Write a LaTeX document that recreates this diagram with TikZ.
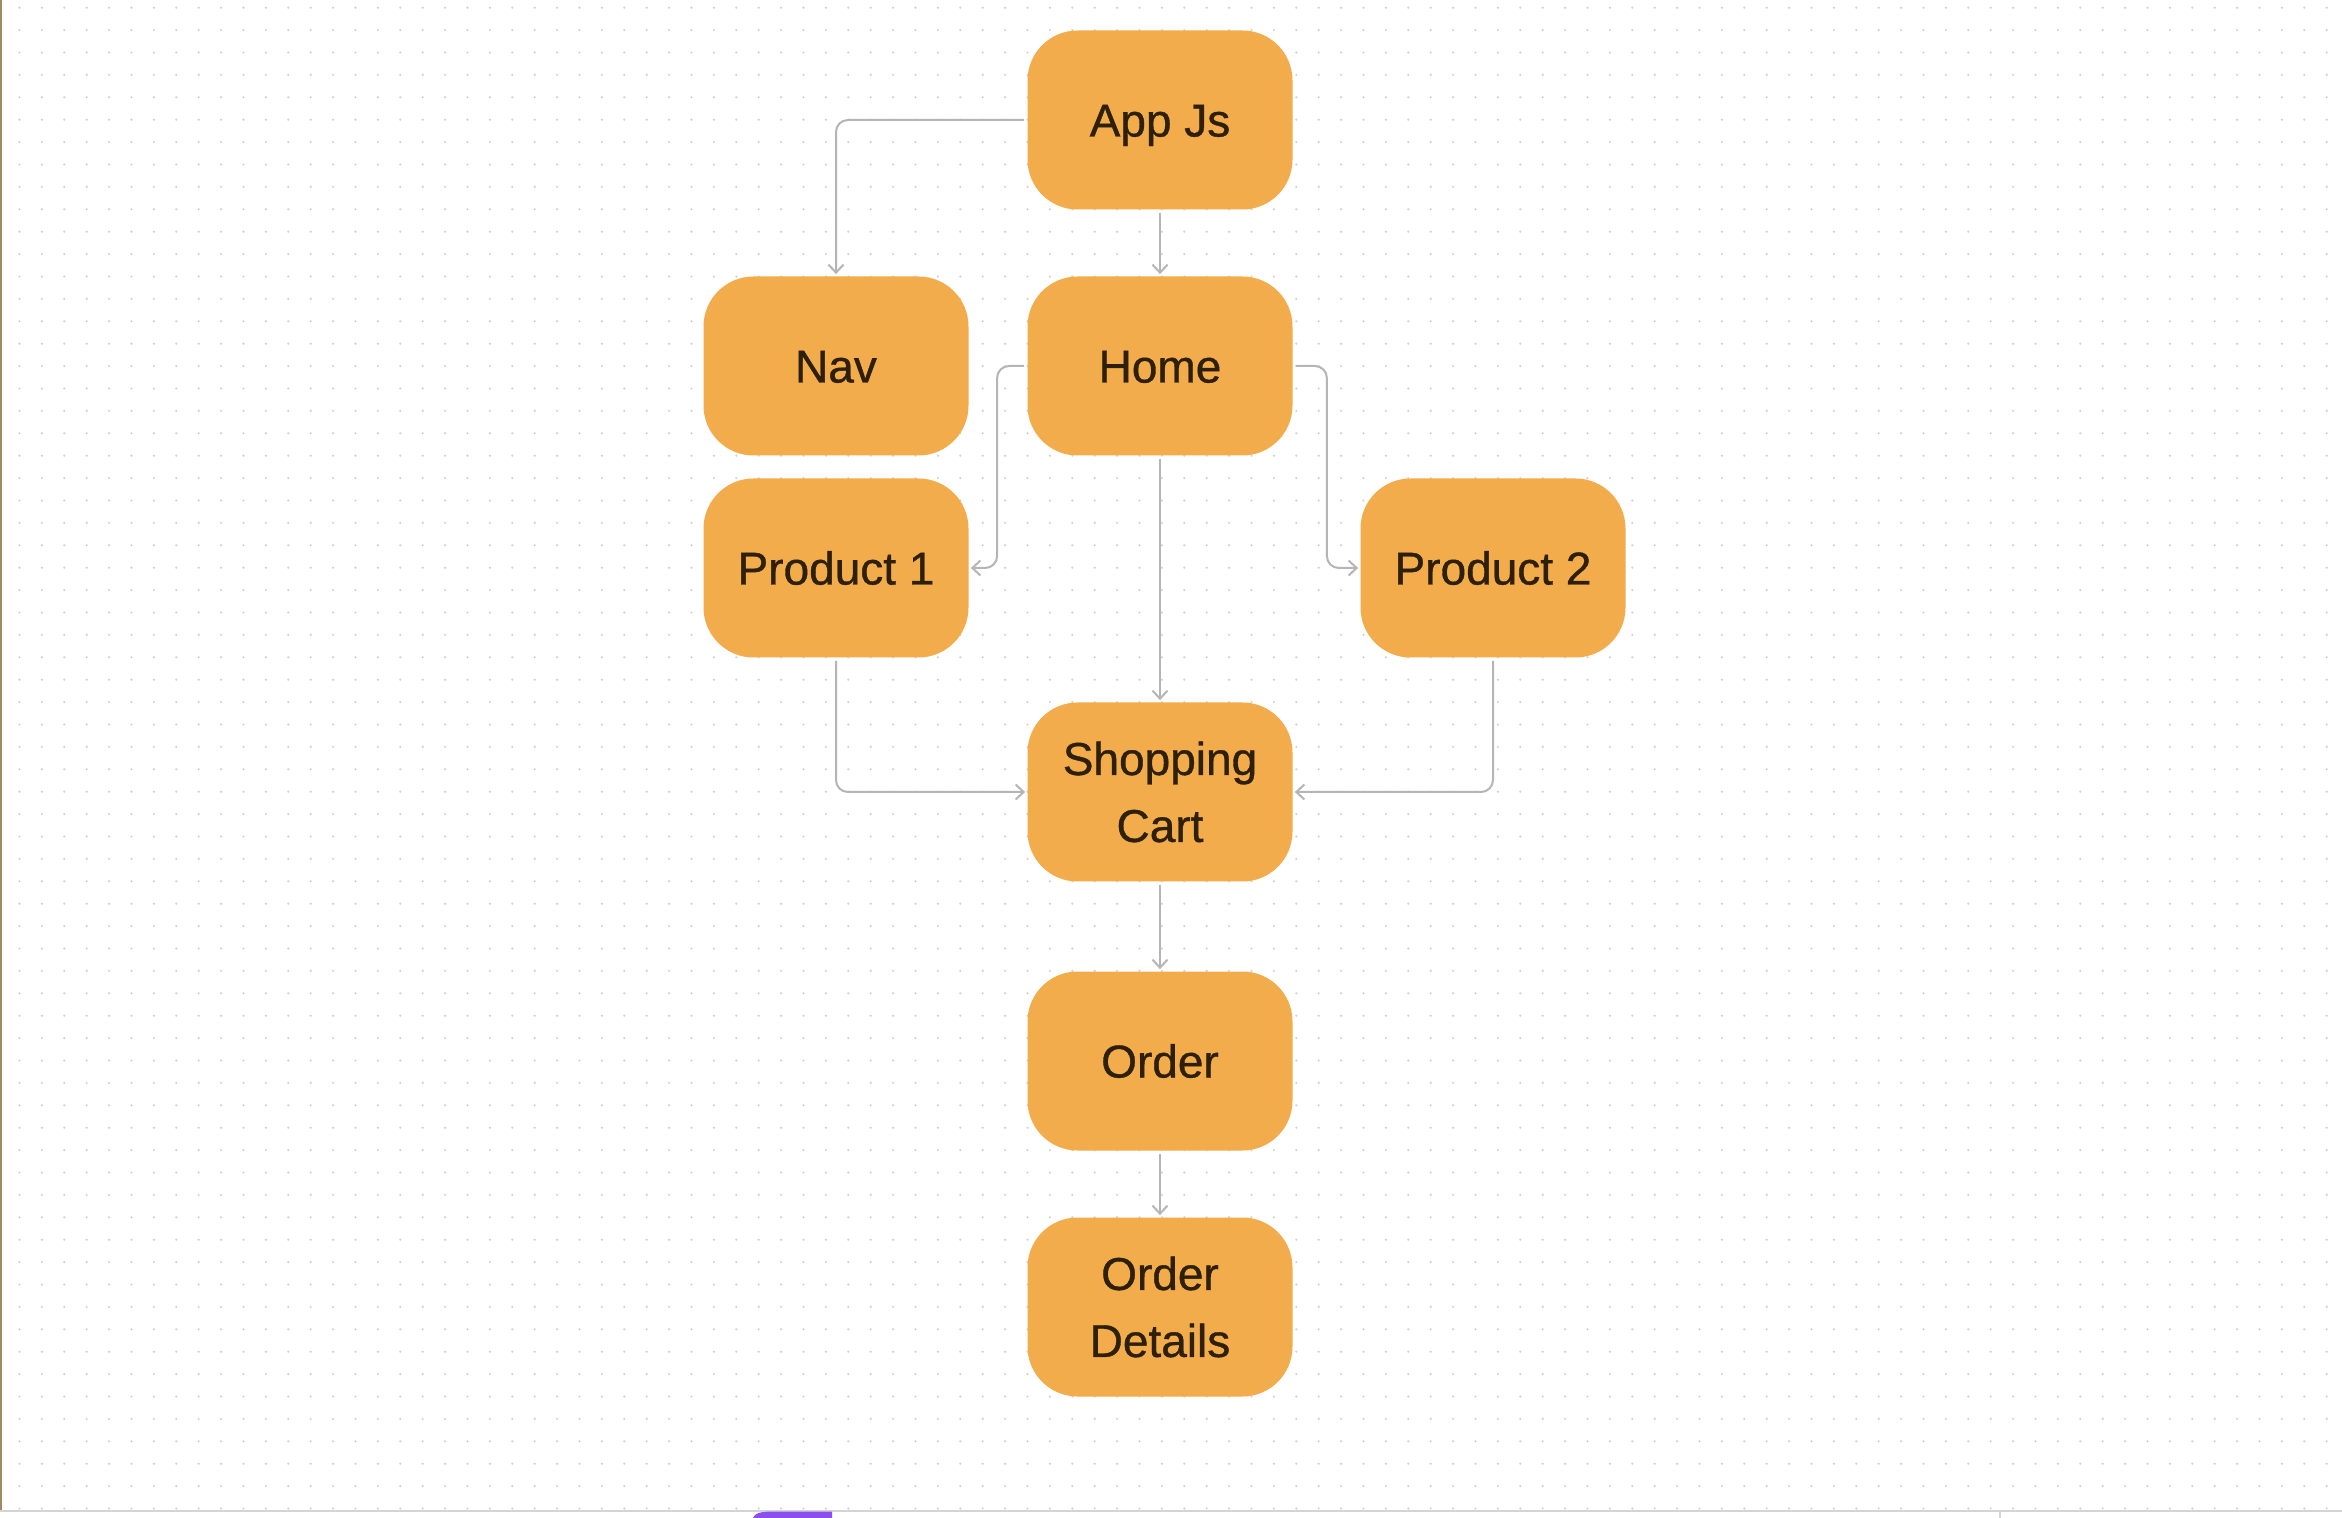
\documentclass[tikz,border=0pt]{standalone}
\usepackage{fontspec}
\setmainfont{Liberation Sans}
\newfontfamily\boxfont{Liberation Sans}[FakeBold=0.8]
\usetikzlibrary{arrows.meta}
\definecolor{boxfill}{HTML}{F2AC4B}
\definecolor{boxtext}{HTML}{2E2008}
\definecolor{linkgray}{HTML}{B5B5B5}
\definecolor{dotgray}{HTML}{D0D0D0}
\definecolor{barpurple}{HTML}{8B4FEE}
\definecolor{edgebrown}{HTML}{A08A60}
\tikzset{
  box/.style={rectangle, rounded corners=25pt, fill=boxfill, text=boxtext,
    minimum width=132.5pt, minimum height=89.5pt,
    font=\boxfont\fontsize{23}{33.5}\selectfont, align=center},
  oneline/.style={box, text height=16.5pt, text depth=0pt},
  link/.style={draw=linkgray, line width=1pt, rounded corners=6pt,
    -{Straight Barb[length=4pt,width=7.5pt]}, shorten <=1.5pt, shorten >=1pt}
}
\begin{document}
\begin{tikzpicture}[x=0.5pt, y=-0.5pt]
    \useasboundingbox (0,0) rectangle (2342,1518);
    \fill[white] (0,0) rectangle (2342,1518);
    % dot grid
    \foreach \j in {0,...,67}
        \draw[dotgray, line width=1.2pt, line cap=round, dash pattern=on 0pt off 11.2pt]
            (19.5,7.7+22.4*\j) -- (2342,7.7+22.4*\j);
    \fill[edgebrown] (0,0) rectangle (2,1518);
    % bottom bar
    \fill[white] (0,1511) rectangle (2342,1518);
    \draw[black!17, line width=1pt] (0,1510.5) -- (2342,1510.5);
    \draw[black!17, line width=1pt] (2000,1511) -- (2000,1518);
    \fill[barpurple] (753,1518) .. controls (755,1513) and (760,1511.5) .. (775,1511.5)
        -- (832,1511.5) -- (832,1518) -- cycle;

    \node[oneline] (App) at (1160,120) {App Js};
    \node[oneline] (Nav) at (836,366) {Nav};
    \node[oneline] (Home) at (1160,366) {Home};
    \node[oneline] (P1) at (836,568) {Product 1};
    \node[oneline] (P2) at (1493,568) {Product 2};
    \node[box] (Cart) at (1160,792) {Shopping\\Cart};
    \node[oneline] (Order) at (1160,1061) {Order};
    \node[box] (Details) at (1160,1307) {Order\\Details};

    \draw[link] (App.west) -| (Nav.north);
    \draw[link] (App) -- (Home);
    \draw[link] (Home.west) -- ++(-30,0) |- (P1.east);
    \draw[link] (Home.east) -- ++(34,0) |- (P2.west);
    \draw[link] (Home) -- (Cart);
    \draw[link] (P1.south) |- (Cart.west);
    \draw[link] (P2.south) |- (Cart.east);
    \draw[link] (Cart) -- (Order);
    \draw[link] (Order) -- (Details);
\end{tikzpicture}
\end{document}
